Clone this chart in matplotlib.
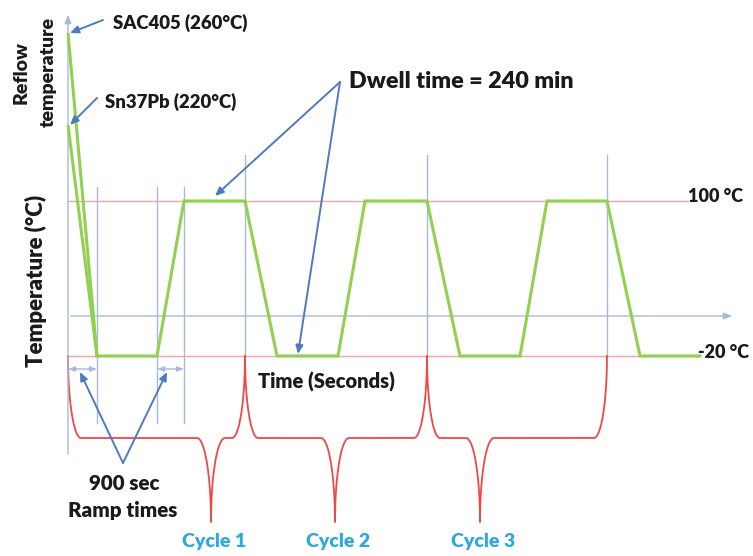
import numpy as np
import matplotlib.pyplot as plt

plt.rcParams['font.family'] = ['Lato', 'DejaVu Sans']
plt.rcParams['font.weight'] = 'heavy'

# ---- schematic thermal-cycling profile (time axis not to scale) ----
profile_t = [29, 89, 116, 177, 209, 270, 297, 359, 392, 452, 479, 539, 572, 632]
profile_temp = [-20, -20, 100, 100, -20, -20, 100, 100, -20, -20, 100, 100, -20, -20]

reflow_names = ["SAC405", "Sn37Pb"]
reflow_temps = [260, 220]
reflow_end_t = 29

t_high, t_low = 100, -20
dwell_min = 240
ramp_sec = 900

# compressed temperature scale used by the sketch
scale_temps = [-20, 100, 220, 260]
scale_pos = [0, 155, 231, 323]

cycle_edges = [0, 177, 359, 539]
cycle_tips = [143, 267, 412]
cycle_labels = ["Cycle 1", "Cycle 2", "Cycle 3"]
ramp_marks = [29, 89, 116]


def to_y(temp):
    return np.interp(temp, scale_temps, scale_pos)


GREEN = '#92D050'
RED = '#F04848'
PALE_RED = '#EFA6A6'
AXIS_BLUE = '#A9B9DC'
ARROW_BLUE = '#4F7BBE'
CYAN = '#2FA8DF'
TEXT = '#1A1A1A'

fig = plt.figure(figsize=(7.53, 5.56), dpi=100)
ax = fig.add_axes([0, 0, 1, 1])
ax.set_xlim(-68, 685)
ax.set_ylim(-200, 356)
ax.axis('off')

# axes of the sketch
ax.annotate('', xy=(0, 344), xytext=(0, -101),
            arrowprops=dict(arrowstyle='-|>,head_length=0.5,head_width=0.2',
                            color=AXIS_BLUE, lw=1.0))
ax.annotate('', xy=(667, 40), xytext=(0, 40),
            arrowprops=dict(arrowstyle='-|>,head_length=0.5,head_width=0.2',
                            color=AXIS_BLUE, lw=1.0))

# reference levels
ax.plot([0, 620], [to_y(t_high)] * 2, color=PALE_RED, lw=1.0, zorder=1)
ax.plot([0, 632], [to_y(t_low)] * 2, color=PALE_RED, lw=1.0, zorder=1)

# guide lines
for t in ramp_marks:
    ax.plot([t, t], [-67, 169], color=AXIS_BLUE, lw=1.0, zorder=1)
for t in cycle_edges[1:]:
    ax.plot([t, t], [0, 201], color=AXIS_BLUE, lw=1.0, zorder=1)

# temperature profile
for temp in reflow_temps:
    ax.plot([0, reflow_end_t], [to_y(temp), to_y(t_low)], color=GREEN, lw=2.2,
            solid_capstyle='butt', zorder=3)
ax.plot(profile_t, to_y(np.array(profile_temp)), color=GREEN, lw=2.2,
        solid_joinstyle='miter', zorder=3)


def brace(x0, x1, xt, top=0.0, mid=-82.0, tip=-166.0, r_end=13.0, r_tip=14.0):
    th = np.linspace(0, np.pi / 2, 40)
    left = np.column_stack([x0 + r_end - r_end * np.cos(th), top + (mid - top) * np.sin(th)])
    to_tip = np.column_stack([xt - r_tip + r_tip * np.sin(th), tip + (mid - tip) * np.cos(th)])
    from_tip = np.column_stack([xt + r_tip - r_tip * np.sin(th[::-1]), tip + (mid - tip) * np.cos(th[::-1])])
    right = np.column_stack([x1 - r_end + r_end * np.cos(th[::-1]), top + (mid - top) * np.sin(th[::-1])])
    return np.vstack([left, to_tip, from_tip, right])


for (a, b), xt, lab in zip(zip(cycle_edges[:-1], cycle_edges[1:]), cycle_tips, cycle_labels):
    pts = brace(a, b, xt)
    ax.plot(pts[:, 0], pts[:, 1], color=RED, lw=1.3, zorder=2)
    ax.text(xt + 3, -186, lab, color=CYAN, fontsize=14, ha='center', va='center')

arrow_kw = dict(arrowstyle='-|>,head_length=0.5,head_width=0.22', color=ARROW_BLUE, lw=1.4,
                shrinkA=0, shrinkB=0)

# reflow annotations
ax.annotate('', xy=(2, to_y(reflow_temps[0])), xytext=(35, 336), arrowprops=arrow_kw)
ax.text(45, 333, f'{reflow_names[0]} ({reflow_temps[0]}°C)', fontsize=13.3,
        color=TEXT, va='center', ha='left')
ax.annotate('', xy=(2, to_y(reflow_temps[1])), xytext=(29, 258), arrowprops=arrow_kw)
ax.text(37, 254, f'{reflow_names[1]} ({reflow_temps[1]}°C)', fontsize=13.3,
        color=TEXT, va='center', ha='left')

# dwell annotation
ax.text(281, 274, f'Dwell time = {dwell_min} min', fontsize=16.8, color=TEXT,
        va='center', ha='left')
ax.annotate('', xy=(147, to_y(t_high) + 5), xytext=(272, 274), arrowprops=arrow_kw)
ax.annotate('', xy=(230, to_y(t_low) + 2), xytext=(272, 274), arrowprops=arrow_kw)

# level labels
ax.text(620, to_y(t_high) + 4, f'{t_high} °C', fontsize=13, color=TEXT, va='center')
ax.text(630, to_y(t_low) + 4, f'{t_low} °C', fontsize=13, color=TEXT, va='center')

ax.text(190, -26, 'Time (Seconds)', fontsize=14.5, color=TEXT, va='center')

# ramp annotations
dbl = dict(arrowstyle='<|-|>,head_length=0.4,head_width=0.15', color=AXIS_BLUE, lw=1.0,
           shrinkA=0, shrinkB=0)
ax.annotate('', xy=(0, -13), xytext=(ramp_marks[0], -13), arrowprops=dbl)
ax.annotate('', xy=(ramp_marks[1], -13), xytext=(ramp_marks[2], -13), arrowprops=dbl)
ax.annotate('', xy=(12, -16), xytext=(55, -107), arrowprops=arrow_kw)
ax.annotate('', xy=(99, -16), xytext=(55, -107), arrowprops=arrow_kw)
ax.text(56, -127, f'{ramp_sec} sec', fontsize=14.8, color=TEXT, ha='center', va='center')
ax.text(55, -154, 'Ramp times', fontsize=14.8, color=TEXT, ha='center', va='center')

# axis titles
ax.text(-32, 75, 'Temperature (°C)', fontsize=16, color=TEXT, rotation=90,
        ha='center', va='center')
ax.text(-47, 283, 'Reflow', fontsize=14, color=TEXT, rotation=90,
        ha='center', va='center')
ax.text(-20, 284, 'temperature', fontsize=14, color=TEXT, rotation=90,
        ha='center', va='center')

fig.savefig('out.png', dpi=100)
